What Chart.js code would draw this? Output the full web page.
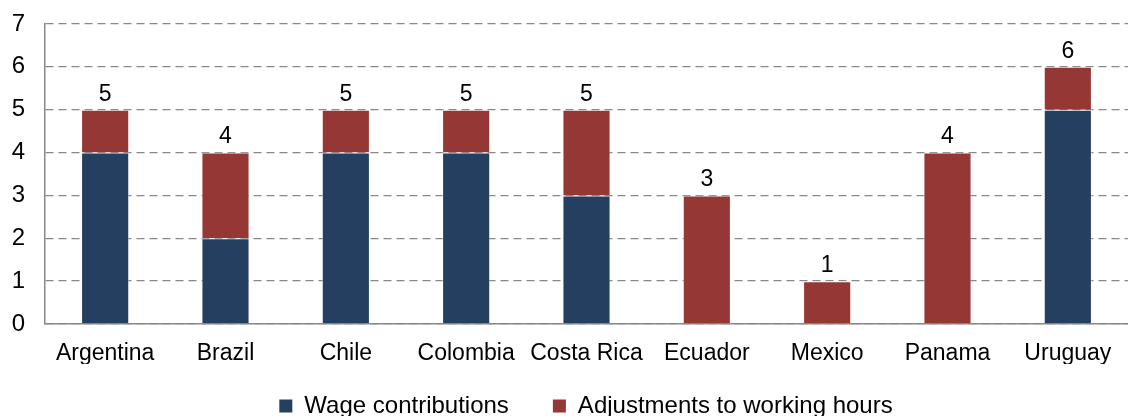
<!DOCTYPE html>
<html>
<head>
<meta charset="utf-8">
<script src="https://cdn.jsdelivr.net/npm/chart.js@4"></script>
<style>
  html, body { margin: 0; padding: 0; background: #fff; }
  #wrap { width: 1128px; height: 416px; }
</style>
</head>
<body>
<div id="wrap"><canvas id="myChart"></canvas></div>
<script>
const countries = ["Argentina", "Brazil", "Chile", "Colombia", "Costa Rica", "Ecuador", "Mexico", "Panama", "Uruguay"];
const wageContributions = [4, 2, 4, 4, 3, 0, 0, 0, 5];
const workingHours = [1, 2, 1, 1, 2, 3, 1, 4, 1];
const totals = countries.map((c, i) => wageContributions[i] + workingHours[i]);

const font = "'Liberation Sans', Arial, sans-serif";

// writes the stacked total above each bar
const totalLabels = {
  id: "totalLabels",
  afterDatasetsDraw(chart) {
    const ctx = chart.ctx;
    const top = chart.getDatasetMeta(1).data;
    ctx.save();
    ctx.font = "23px " + font;
    ctx.fillStyle = "#000";
    ctx.textAlign = "center";
    ctx.textBaseline = "bottom";
    top.forEach((bar, i) => {
      const y = chart.scales.y.getPixelForValue(totals[i]);
      ctx.fillText(totals[i], bar.x, y - 4);
    });
    ctx.restore();
  }
};

// compact legend box, drawn a little higher so it tucks under the axis labels,
// and centred on the plot rather than the whole canvas
const legendHeight = {
  id: "legendHeight",
  beforeInit(chart) {
    const legend = chart.legend;
    const fit = legend.fit;
    legend.fit = function () {
      fit.call(this);
      this.height = 52;
    };
  },
  afterLayout(chart) {
    chart.legend.top -= 14;
    chart.legend.left += 22;
    chart.legend.right += 22;
  }
};

const data = {
  labels: countries,
  datasets: [
    {
      label: "Wage contributions",
      data: wageContributions,
      backgroundColor: "#243f60",
      borderColor: "rgba(255,255,255,0.5)",
      borderWidth: 1,
      barPercentage: 0.4,
      categoryPercentage: 1,
    },
    {
      label: "Adjustments to working hours",
      data: workingHours,
      backgroundColor: "#953735",
      borderColor: "rgba(255,255,255,0.5)",
      borderWidth: 1,
      barPercentage: 0.4,
      categoryPercentage: 1,
    },
  ],
};

const config = {
  type: "bar",
  data: data,
  plugins: [totalLabels, legendHeight],
  options: {
    responsive: true,
    maintainAspectRatio: false,
    animation: false,
    layout: { padding: { top: 24, right: 0, left: 0, bottom: 0 } },
    plugins: {
      tooltip: { enabled: false },
      legend: {
        position: "bottom",
        labels: {
          font: { family: font, size: 24 },
          color: "#000",
          boxWidth: 13,
          boxHeight: 13,
          padding: 44,
          generateLabels(chart) {
            return chart.data.datasets.map((ds, i) => ({
              text: ds.label,
              fillStyle: ds.backgroundColor,
              strokeStyle: ds.backgroundColor,
              lineWidth: 0,
              datasetIndex: i,
            }));
          },
        },
      },
    },
    scales: {
      x: {
        stacked: true,
        afterFit(scale) { scale.height = 40; },
        grid: { display: false },
        border: { color: "#888", width: 1.5 },
        ticks: { font: { family: font, size: 23 }, color: "#000", padding: 8, maxRotation: 0 },
      },
      y: {
        stacked: true,
        min: 0,
        max: 7,
        afterFit(scale) {
          scale.width = 45;
          scale.paddingTop = 0;
          scale.paddingBottom = 0;
        },
        ticks: { stepSize: 1, font: { family: font, size: 24 }, color: "#000", padding: 20 },
        grid: { color: "#888", lineWidth: 1.3, drawTicks: false },
        border: { color: "#888", width: 1.5, dash: [8, 5] },
      },
    },
  },
};

const myChart = new Chart(document.getElementById("myChart"), config);
</script>
</body>
</html>
